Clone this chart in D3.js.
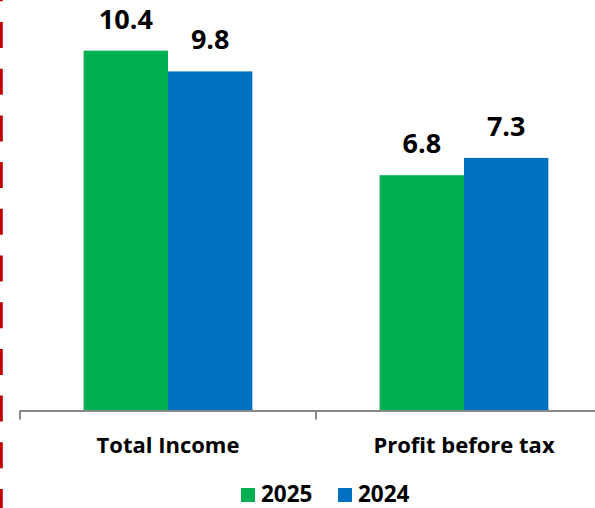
<!DOCTYPE html>
<html>
<head>
<meta charset="utf-8">
<script src="https://cdn.jsdelivr.net/npm/d3@7"></script>
<style>
  html, body { margin: 0; padding: 0; background: #fff; }
  svg { display: block; font-family: "Open Sans", Lato, sans-serif; font-weight: 700; }
</style>
</head>
<body>
<svg id="chart" width="595" height="508"></svg>
<script>
// --- data ---------------------------------------------------------------------
const categories = ['Total Income', 'Profit before tax'];
const series = ['2025', '2024'];
const values2025 = [10.4, 6.8];
const values2024 = [9.8, 7.3];
const colors = ['#00B050', '#0070C0'];

(function(){
  const svg = d3.select('#chart');
  const W = 595, H = 508;
  const base = 410.5;

  const rows = categories.map((c, i) => ({cat: c, vals: [values2025[i], values2024[i]]}));

  // --- scales -----------------------------------------------------------------
  const x0 = d3.scaleBand().domain(categories).range([20, 612])
    .paddingInner(0.43).paddingOuter(0.215);
  const x1 = d3.scaleBand().domain(series).range([0, x0.bandwidth()]);
  const y = d3.scaleLinear().domain([0, 11]).range([base, base - 11 * 34.6]);

  // red dashed rule on the left edge
  svg.append('line')
    .attr('x1', 1.4).attr('x2', 1.4).attr('y1', 0).attr('y2', H)
    .attr('stroke', '#C00000').attr('stroke-width', 2.8)
    .attr('stroke-dasharray', '26 20.7').attr('stroke-dashoffset', 24.7);

  // --- bars -------------------------------------------------------------------
  const grp = svg.append('g').selectAll('g')
    .data(rows).join('g')
    .attr('transform', d => `translate(${x0(d.cat)},0)`);

  grp.selectAll('rect')
    .data(d => d.vals.map((v, i) => ({key: series[i], v, i})))
    .join('rect')
    .attr('x', d => x1(d.key))
    .attr('width', x1.bandwidth())
    .attr('y', d => y(d.v))
    .attr('height', d => base - y(d.v))
    .attr('fill', d => colors[d.i]);

  grp.selectAll('text.val')
    .data(d => d.vals.map((v, i) => ({key: series[i], v, i})))
    .join('text')
    .attr('class', 'val')
    .attr('x', d => x1(d.key) + x1.bandwidth() / 2)
    .attr('y', d => y(d.v) - 22)
    .attr('text-anchor', 'middle')
    .attr('font-size', 27)
    .attr('fill', '#000')
    .text(d => d.v.toFixed(1));

  // --- axis -------------------------------------------------------------------
  const step = x0.step();
  const left = x0(categories[0]) - step * x0.paddingOuter();
  const axis = svg.append('g').attr('stroke', '#898989').attr('stroke-width', 2);
  axis.append('line').attr('x1', left).attr('x2', W).attr('y1', base + 0.5).attr('y2', base + 0.5);
  d3.range(categories.length + 1).forEach(i => {
    const tx = left + i * step;
    axis.append('line').attr('x1', tx).attr('x2', tx).attr('y1', base).attr('y2', base + 9);
  });

  svg.append('g').selectAll('text')
    .data(categories).join('text')
    .attr('x', d => x0(d) + x0.bandwidth() / 2)
    .attr('y', 452.7)
    .attr('text-anchor', 'middle')
    .attr('font-size', 22)
    .attr('fill', '#000')
    .text(d => d);

  // --- legend -----------------------------------------------------------------
  const legX = [241, 338];
  const leg = svg.append('g').selectAll('g')
    .data(series).join('g')
    .attr('transform', (d, i) => `translate(${legX[i]},488)`);
  leg.append('rect').attr('width', 14).attr('height', 14).attr('fill', (d, i) => colors[i]);
  leg.append('text').attr('x', 20).attr('y', 14).attr('font-size', 22.5).attr('fill', '#000').text(d => d);
})();
</script>
</body>
</html>
